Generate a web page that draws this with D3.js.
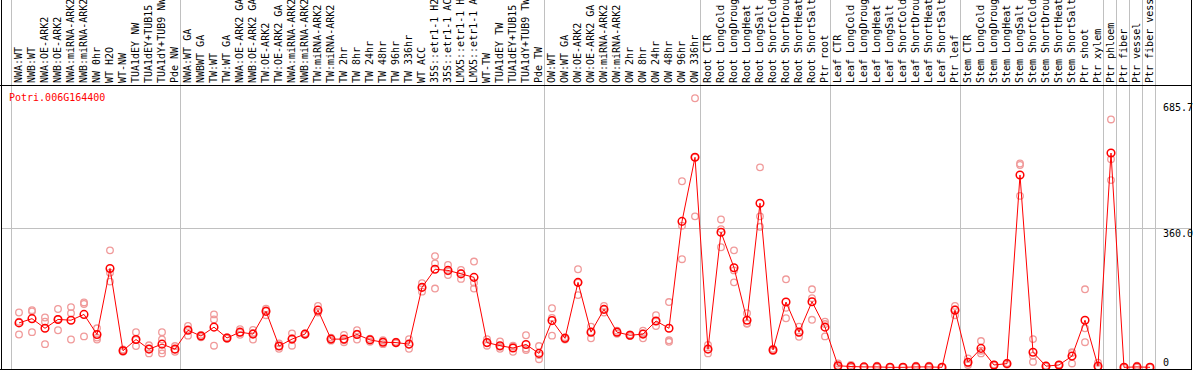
<!DOCTYPE html>
<html lang="en">
<head>
  <meta charset="UTF-8">
  <title>Potri.006G164400</title>
  <script src="https://d3js.org/d3.v7.min.js"></script>
  <style>
    body { margin: 0; background: #fff; }
    text { font-family: "DejaVu Sans Mono", monospace; font-size: 10px; }
  </style>
</head>
<body>
<div id="myDiv"></div>

<script>
// gene shown in the top left corner
var geneName = "Potri.006G164400";

// sample names, left to right
var samples = [
  "NWA:WT", "NWB:WT", "NWA:OE-ARK2", "NWB:OE-ARK2", "NWA:miRNA-ARK2", "NWB:miRNA-ARK2",
  "NW 0hr", "WT H2O", "WT-NW", "TUA1dEY NW", "TUA1dEY+TUB15 NW", "TUA1dY+TUB9 NW", "Pde NW",
  "NWA:WT GA", "NWBWT GA", "TW:WT", "TW:WT GA", "NWA:OE-ARK2 GA", "NWB:OE-ARK2 GA",
  "TW:OE-ARK2", "TW:OE-ARK2 GA", "NWA:miRNA-ARK2 GA", "NWB:miRNA-ARK2 GA", "TW:miRNA-ARK2",
  "TW:miRNA-ARK2 GA", "TW 2hr", "TW 8hr", "TW 24hr", "TW 48hr", "TW 96hr", "TW 336hr",
  "WT ACC", "35S::etr1-1 H2O", "35S::etr1-1 ACC", "LMX5::etr1-1 H2O", "LMX5::etr1-1 ACC",
  "WT-TW", "TUA1dEY TW", "TUA1dEY+TUB15 TW", "TUA1dY+TUB9 TW", "Pde TW",
  "OW:WT", "OW:WT GA", "OW:OE-ARK2", "OW:OE-ARK2 GA", "OW:miRNA-ARK2", "OW:miRNA-ARK2 GA",
  "OW 2hr", "OW 8hr", "OW 24hr", "OW 48hr", "OW 96hr", "OW 336hr",
  "Root CTR", "Root LongCold", "Root LongDrought", "Root LongHeat", "Root LongSalt",
  "Root ShortCold", "Root ShortDrought", "Root ShortHeat", "Root ShortSalt", "Ptr root",
  "Leaf CTR", "Leaf LongCold", "Leaf LongDrought", "Leaf LongHeat", "Leaf LongSalt",
  "Leaf ShortCold", "Leaf ShortDrought", "Leaf ShortHeat", "Leaf ShortSalt", "Ptr leaf",
  "Stem CTR", "Stem LongCold", "Stem LongDrought", "Stem LongHeat", "Stem LongSalt",
  "Stem ShortCold", "Stem ShortDrought", "Stem ShortHeat", "Stem ShortSalt", "Ptr shoot", "Ptr xylem",
  "Ptr phloem", "Ptr fiber", "Ptr vessel", "Ptr fiber vessel"
];

// how many samples sit in each block between the grey separators
var groupSizes = [13, 28, 12, 10, 10, 11, 1, 1, 1, 1];

// mean expression per sample
var means = [
  115, 126, 101, 124, 122, 137, 85, 256, 43, 72, 47, 60, 47,
  96, 81, 104, 76, 91, 86, 145, 55, 73, 86, 148, 73, 73, 85, 71, 65, 64, 60,
  207, 254, 251, 242, 233, 64, 56, 50, 59, 36,
  121, 75, 220, 91, 150, 91, 83, 86, 120, 101, 378, 544,
  47, 350, 258, 122, 425, 45, 169, 91, 170, 104,
  4, 2, 1, 1, 0, 0, 1, 1, 0, 148,
  13, 49, 6, 9.5, 498, 39, 3, 6, 29, 122, 3,
  555, 0, 1, 0
];

// replicate values per sample
var replicates = [
  [142, 85, 118], [148, 145, 91], [129, 118, 60], [151, 96, 125], [156, 140, 72],
  [168, 164, 80], [101, 77, 72], [303, 245, 222], [46, 43, 40], [91, 55, 71],
  [57, 36, 48], [91, 72, 44, 36], [55, 46, 40],
  [107, 99, 82], [84, 81, 78], [137, 124, 56], [78, 76, 74], [99, 90, 84],
  [97, 89, 72], [152, 148, 135], [62, 55, 48], [88, 75, 56], [88, 86, 84],
  [159, 142, 143], [77, 73, 69], [84, 70, 65], [96, 87, 72], [74, 71, 66],
  [70, 66, 60], [66, 64, 62], [73, 59, 48], [218, 207, 196], [288, 269, 204],
  [265, 249, 239], [252, 244, 229], [274, 219, 204], [73, 63, 56], [67, 53, 48],
  [56, 54, 40], [83, 49, 45], [55, 32, 21],
  [153, 128, 82], [78, 75, 72], [254, 219, 187], [105, 92, 75], [159, 150, 142],
  [95, 91, 87], [85, 83, 81], [95, 88, 75], [135, 119, 107], [169, 70, 66],
  [482, 367, 280], [697, 544, 391],
  [58, 47, 36], [383, 358, 311], [303, 251, 220], [140, 114, 113], [518, 391, 364],
  [48, 45, 42], [228, 154, 127], [105, 90, 79], [202, 179, 123], [118, 112, 80],
  [10, 2, 0], [6, 0, 0], [1, 1, 0], [4, 0, 0], [0, 0, 0],
  [1, 0, 0], [4, 0, 0], [4, 0, 0], [0, 0, 0], [159, 150, 135],
  [23, 10, 6], [68, 43, 36], [7, 6, 5], [11, 10, 7], [528, 524, 444],
  [73, 30, 14], [4, 3, 2], [7, 6, 5], [39, 37, 10], [202, 101, 65], [12, 0, 0],
  [642, 539, 485], [0, 0, 0], [4, 0, 0], [0, 0, 0]
];

// value axis ticks and their printed labels
var yTicks = [0, 360, 685.7];
var yTickLabels = ["0", "360.0", "685.7"];
var yGrid = [360];

var width = 1194, height = 370;
var headerBottom = 85;

var svg = d3.select("#myDiv").append("svg")
  .attr("width", width)
  .attr("height", height);

// one column per sample
var xScale = d3.scaleBand()
  .domain(d3.range(samples.length))
  .range([11, 1155]);

var yScale = d3.scaleLinear()
  .domain([0, 685.7])
  .range([367.3, 102.6]);

function px(i) { return xScale(i) + 8; }

// grey separators at the start of each group (and after the last one)
var groupStarts = [];
var pos = 0;
groupSizes.forEach(function(n){ groupStarts.push(pos); pos += n; });
var sepX = groupStarts.map(function(i){ return xScale(i); });
sepX.push(xScale(samples.length - 1) + xScale.bandwidth());

svg.selectAll(".vgrid")
  .data(sepX)
  .enter().append("line")
  .attr("class", "vgrid")
  .attr("x1", function(d){ return d + 0.5; })
  .attr("x2", function(d){ return d + 0.5; })
  .attr("y1", 0)
  .attr("y2", height)
  .attr("stroke", "#c0c0c0");

svg.selectAll(".hgrid")
  .data(yGrid)
  .enter().append("line")
  .attr("class", "hgrid")
  .attr("x1", 1)
  .attr("x2", 1192)
  .attr("y1", function(d){ return Math.round(yScale(d)) + 0.5; })
  .attr("y2", function(d){ return Math.round(yScale(d)) + 0.5; })
  .attr("stroke", "#c0c0c0");

// sample names, rotated, sitting on the header line
svg.selectAll(".sname")
  .data(samples)
  .enter().append("text")
  .attr("class", "sname")
  .attr("transform", function(d, i){ return "translate(" + (xScale(i) + 10.5) + "," + (headerBottom - 2) + ") rotate(-90)"; })
  .attr("fill", "#000")
  .text(function(d){ return d; });

// frame
svg.append("line").attr("x1", 0).attr("x2", 1192).attr("y1", headerBottom + 0.5).attr("y2", headerBottom + 0.5).attr("stroke", "#000");
svg.append("line").attr("x1", 1.5).attr("x2", 1.5).attr("y1", 0).attr("y2", height).attr("stroke", "#000");
svg.append("line").attr("x1", 1191.5).attr("x2", 1191.5).attr("y1", 0).attr("y2", height).attr("stroke", "#000");
svg.append("line").attr("x1", 0).attr("x2", 1192).attr("y1", 369.5).attr("y2", 369.5).attr("stroke", "#000");

// value axis on the right, labels only
var yAxis = d3.axisRight(yScale)
  .tickValues(yTicks)
  .tickSize(0)
  .tickFormat(function(d, i){ return yTickLabels[i]; });

var yG = svg.append("g")
  .attr("transform", "translate(1163,0)")
  .call(yAxis);
yG.select(".domain").remove();
yG.selectAll(".tick text")
  .attr("x", 0)
  .attr("dy", null)
  .attr("y", function(d){ return Math.min(8, 365 - yScale(d)); })
  .attr("text-anchor", "start")
  .attr("fill", "#000")
  .style("font-family", "'DejaVu Sans Mono', monospace")
  .style("font-size", "10px");

// plot area clip so zero points are cut by the bottom border
svg.append("clipPath").attr("id", "plotClip")
  .append("rect").attr("x", 2).attr("y", headerBottom + 1).attr("width", 1189).attr("height", 369 - headerBottom - 1);

var plot = svg.append("g").attr("clip-path", "url(#plotClip)");

// replicate circles
var repPoints = [];
replicates.forEach(function(r, i){
  r.forEach(function(v){ repPoints.push({i: i, v: v}); });
});

plot.selectAll(".rep")
  .data(repPoints)
  .enter().append("circle")
  .attr("class", "rep")
  .attr("cx", function(d){ return px(d.i); })
  .attr("cy", function(d){ return yScale(d.v); })
  .attr("r", 3.3)
  .attr("fill", "none")
  .attr("stroke", "#f09a9a")
  .attr("stroke-width", 1.3);

// mean line
var line = d3.line()
  .x(function(d, i){ return px(i); })
  .y(function(d){ return yScale(d); });

plot.append("path")
  .datum(means)
  .attr("d", line)
  .attr("fill", "none")
  .attr("stroke", "#ff0000")
  .attr("stroke-width", 1);

plot.selectAll(".mean")
  .data(means)
  .enter().append("circle")
  .attr("class", "mean")
  .attr("cx", function(d, i){ return px(i); })
  .attr("cy", function(d){ return yScale(d); })
  .attr("r", 3.8)
  .attr("fill", "none")
  .attr("stroke", "#ff0000")
  .attr("stroke-width", 1.5);

// gene title
svg.append("text")
  .attr("x", 9)
  .attr("y", 101)
  .attr("fill", "#ff0000")
  .text(geneName);
</script>
</body>
</html>
